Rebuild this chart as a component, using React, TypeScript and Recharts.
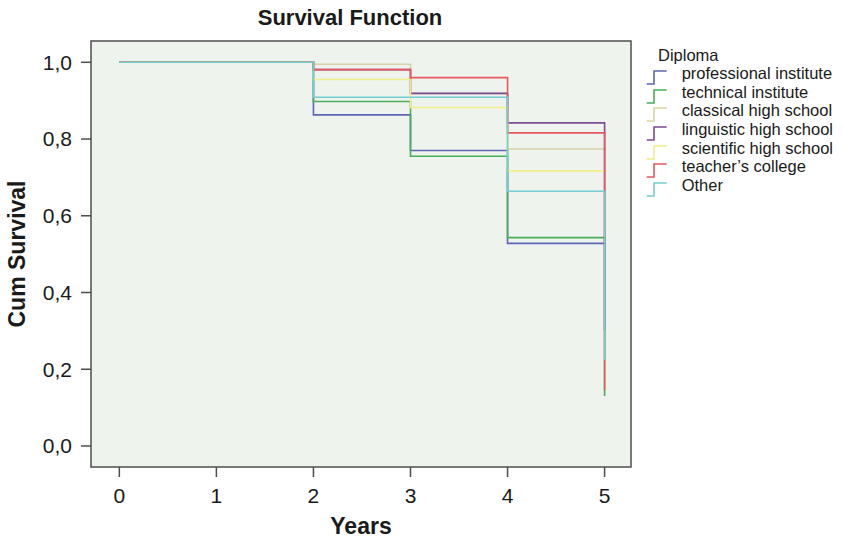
import React from 'react';
import { LineChart, Line, XAxis, YAxis, ReferenceArea, Legend } from 'recharts';

const FONT = '"Liberation Sans", Arial, Helvetica, sans-serif';

const years = [0, 2, 3, 4, 5];
const seriesNames = [
  'professional institute',
  'technical institute',
  'classical high school',
  'linguistic high school',
  'scientific high school',
  'teacher\u2019s college',
  'Other',
];
const seriesColors = ['#5d66b6', '#4aae58', '#d8d3a6', '#7d4a95', '#f1ed88', '#e7585d', '#73cdd1'];

const professional = [1, 0.863, 0.77, 0.528, 0.528];
const technical = [1, 0.898, 0.755, 0.543, 0.13];
const classical = [1, 0.995, 0.919, 0.774, 0.774];
const linguistic = [1, 0.981, 0.919, 0.842, 0.3];
const scientific = [1, 0.955, 0.882, 0.717, 0.717];
const teachers = [1, 0.981, 0.96, 0.816, 0.145];
const other = [1, 0.909, 0.909, 0.664, 0.224];

const seriesValues = [professional, technical, classical, linguistic, scientific, teachers, other];

const xTicks = [0, 1, 2, 3, 4, 5];
const yTicks = [0, 0.2, 0.4, 0.6, 0.8, 1.0];
const xDomain: [number, number] = [-0.292, 5.272];
const yDomain: [number, number] = [-0.0548, 1.0555];

const data = years.map((yr, i) => {
  const row: Record<string, number> = { year: yr };
  seriesValues.forEach((vals, s) => {
    row['s' + s] = vals[i];
  });
  return row;
});

const LegendContent = () => {
  return (
    <div style={{ fontFamily: FONT, fontSize: 16.5, color: '#1a1a1a' }}>
      <div style={{ height: 18.6, lineHeight: '18.6px', paddingLeft: 18, whiteSpace: 'nowrap' }}>Diploma</div>
      {seriesNames.map((name, s) => (
        <div
          key={name}
          style={{ height: 18.6, lineHeight: '18.6px', position: 'relative', paddingLeft: 41.7, whiteSpace: 'nowrap' }}
        >
          <svg width={30} height={22} style={{ position: 'absolute', left: 0, top: 0, overflow: 'visible' }}>
            <path d="M6.7 20 H14 V7 H26.7" fill="none" stroke={seriesColors[s]} strokeWidth={1.6} />
          </svg>
          {name}
        </div>
      ))}
    </div>
  );
};

const fmt = (v: number) => v.toFixed(1).replace('.', ',');

export default function App() {
  return (
    <div style={{ position: 'absolute', left: 0, top: 0, width: 843, height: 539, fontFamily: FONT, background: '#fff' }}>
      <div
        style={{
          position: 'absolute',
          left: 0,
          top: 0,
          width: 700,
          height: 35,
          lineHeight: '35px',
          textAlign: 'center',
          fontWeight: 'bold',
          fontSize: 22,
          color: '#1a1a1a',
        }}
      >
        Survival Function
      </div>
      <LineChart width={843} height={539} data={data} margin={{ top: 41, right: 212, bottom: 0, left: 0 }}>
        <ReferenceArea
          x1={xDomain[0]}
          x2={xDomain[1]}
          y1={yDomain[0]}
          y2={yDomain[1]}
          fill="#eff3ee"
          fillOpacity={1}
          stroke="#4d4d4d"
          strokeWidth={1.5}
        />
        <XAxis
          dataKey="year"
          type="number"
          domain={xDomain}
          allowDataOverflow
          ticks={xTicks}
          interval={0}
          height={72}
          tickSize={10}
          tickMargin={11}
          axisLine={false}
          tickLine={{ stroke: '#4d4d4d', strokeWidth: 1.5 }}
          tick={{ fill: '#1a1a1a', fontSize: 21, fontFamily: FONT }}
          label={{
            value: 'Years',
            position: 'insideBottom',
            offset: 5,
            style: { fontWeight: 'bold', fontSize: 23, fill: '#1a1a1a', fontFamily: FONT },
          }}
        />
        <YAxis
          type="number"
          domain={yDomain}
          allowDataOverflow
          ticks={yTicks}
          interval={0}
          width={91}
          tickSize={10}
          tickMargin={9}
          tickFormatter={fmt}
          axisLine={false}
          tickLine={{ stroke: '#4d4d4d', strokeWidth: 1.5 }}
          tick={{ fill: '#1a1a1a', fontSize: 21, fontFamily: FONT }}
          label={{
            value: 'Cum Survival',
            angle: -90,
            position: 'insideLeft',
            offset: 17,
            style: { textAnchor: 'middle', fontWeight: 'bold', fontSize: 23, fill: '#1a1a1a', fontFamily: FONT },
          }}
        />
        <Legend
          layout="horizontal"
          verticalAlign="middle"
          align="center"
          content={<LegendContent />}
          wrapperStyle={{ left: 640, top: 45.7, width: 203, height: 'auto' }}
        />
        {seriesNames.map((name, s) => (
          <Line
            key={name}
            name={name}
            dataKey={'s' + s}
            type="stepAfter"
            stroke={seriesColors[s]}
            strokeWidth={1.6}
            dot={false}
            activeDot={false}
            isAnimationActive={false}
          />
        ))}
      </LineChart>
    </div>
  );
}
